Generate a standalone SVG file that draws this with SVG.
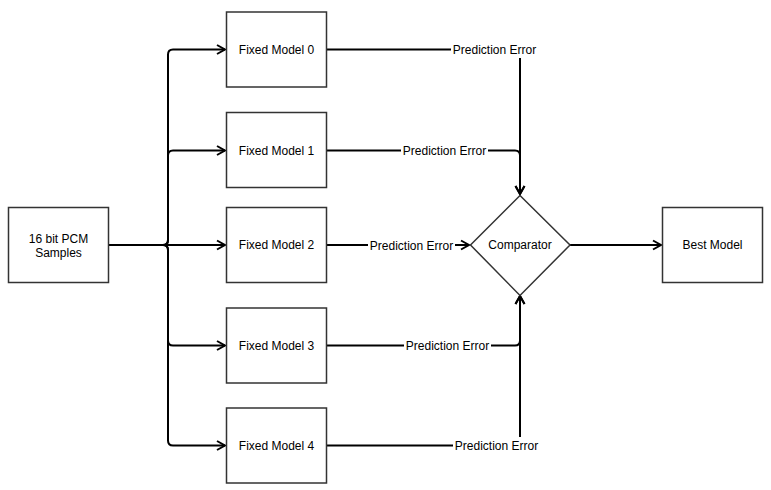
<svg xmlns="http://www.w3.org/2000/svg" width="771" height="490" viewBox="0 0 771 490">
<style>
.box{fill:#fff;stroke:#333;stroke-width:1.5}
.edge{fill:none;stroke:#000;stroke-width:2}
.t{font-family:"Liberation Sans",Arial,sans-serif;font-size:12px;fill:#000;text-anchor:middle}
.lbl{fill:#fff}
</style>
<defs>
<marker id="arr" markerUnits="userSpaceOnUse" markerWidth="12" markerHeight="12" viewBox="0 0 12 12" refX="10" refY="6" orient="auto">
<path d="M2,1.5 L10,6 L2,10.5" fill="none" stroke="#000" stroke-width="2"/>
</marker>
</defs>
<rect width="771" height="490" fill="#fff"/>
<g id="connectors">
<path class="edge" marker-end="url(#arr)" d="M108,245 L163,245 Q168,245 168,240 L168,54.5 Q168,49.5 173,49.5 L225,49.5"/>
<path class="edge" marker-end="url(#arr)" d="M108,245 L163,245 Q168,245 168,240 L168,155.5 Q168,150.5 173,150.5 L225,150.5"/>
<path class="edge" marker-end="url(#arr)" d="M108,245 L225,245"/>
<path class="edge" marker-end="url(#arr)" d="M108,245 L163,245 Q168,245 168,250 L168,340.5 Q168,345.5 173,345.5 L225,345.5"/>
<path class="edge" marker-end="url(#arr)" d="M108,245 L163,245 Q168,245 168,250 L168,440.5 Q168,445.5 173,445.5 L225,445.5"/>
<path class="edge" marker-end="url(#arr)" d="M326,49.5 L520,49.5 L520,194"/>
<path class="edge" marker-end="url(#arr)" d="M326,150.5 L515,150.5 Q520,150.5 520,155.5 L520,194"/>
<path class="edge" marker-end="url(#arr)" d="M326,245 L469,245"/>
<path class="edge" marker-end="url(#arr)" d="M326,345.5 L515,345.5 Q520,345.5 520,340.5 L520,296"/>
<path class="edge" marker-end="url(#arr)" d="M326,445.5 L520,445.5 L520,296"/>
<path class="edge" marker-end="url(#arr)" d="M570,245 L661,245"/>
<rect class="lbl" x="451" y="41" width="87" height="17"/>
<text class="t" x="494.5" y="54">Prediction Error</text>
<rect class="lbl" x="401" y="142" width="87" height="17"/>
<text class="t" x="444.5" y="155">Prediction Error</text>
<rect class="lbl" x="368" y="237" width="87" height="17"/>
<text class="t" x="411.5" y="250">Prediction Error</text>
<rect class="lbl" x="404" y="337" width="87" height="17"/>
<text class="t" x="447.5" y="350">Prediction Error</text>
<rect class="lbl" x="453" y="437" width="87" height="17"/>
<text class="t" x="496.5" y="450">Prediction Error</text>
</g>
<g id="source">
<rect class="box" x="8.5" y="207.5" width="100" height="75"/>
<text class="t" x="58.5" y="243">16 bit PCM</text>
<text class="t" x="58.5" y="257">Samples</text>
</g>
<g id="model0">
<rect class="box" x="226.5" y="12" width="100" height="75"/>
<text class="t" x="276.5" y="54">Fixed Model 0</text>
</g>
<g id="model1">
<rect class="box" x="226.5" y="112.5" width="100" height="75"/>
<text class="t" x="276.5" y="155">Fixed Model 1</text>
</g>
<g id="model2">
<rect class="box" x="226.5" y="207.5" width="100" height="75"/>
<text class="t" x="276.5" y="249">Fixed Model 2</text>
</g>
<g id="model3">
<rect class="box" x="226.5" y="308" width="100" height="75"/>
<text class="t" x="276.5" y="350">Fixed Model 3</text>
</g>
<g id="model4">
<rect class="box" x="226.5" y="408" width="100" height="75"/>
<text class="t" x="276.5" y="450">Fixed Model 4</text>
</g>
<g id="comparator">
<path class="box" d="M520,195.5 L570,245 L520,295.5 L470.5,245 Z"/>
<text class="t" x="520" y="249">Comparator</text>
</g>
<g id="best">
<rect class="box" x="662.5" y="207.5" width="100" height="75"/>
<text class="t" x="712.5" y="249">Best Model</text>
</g>
</svg>
